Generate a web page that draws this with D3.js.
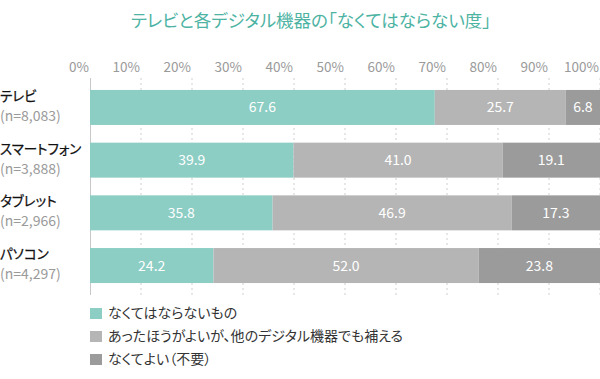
<!DOCTYPE html>
<html><head><meta charset="utf-8">
<script src="https://cdn.jsdelivr.net/npm/d3@7"></script>
<style>
html,body{margin:0;padding:0;background:#fff;}
svg{display:block;font-family:"Noto Sans CJK JP","Noto Sans",sans-serif;}
.jp{font-feature-settings:"palt" 1;}
</style></head>
<body><svg id="c" width="600" height="379"></svg>
<script>
const title = "テレビと各デジタル機器の「なくてはならない度」";
const categories = ["テレビ","スマートフォン","タブレット","パソコン"];
const sampleSizes = ["(n=8,083)","(n=3,888)","(n=2,966)","(n=4,297)"];
const seriesNames = ["なくてはならないもの","あったほうがよいが、他のデジタル機器でも補える","なくてよい（不要）"];
const essential = [67.6, 39.9, 35.8, 24.2];
const replaceable = [25.7, 41.0, 46.9, 52.0];
const unnecessary = [6.8, 19.1, 17.3, 23.8];
const tickValues = [0,10,20,30,40,50,60,70,80,90,100];
const colors = ["#8ccdc4","#b5b5b5","#9b9b9b"];

const svg = d3.select("#c");
const x = d3.scaleLinear().domain([0,100]).range([90,600]);
const y = d3.scaleBand().domain(categories).range([78,295]).paddingInner(0.336).paddingOuter(0.227);

svg.append("text").attr("class","jp").attr("x",311).attr("y",27).attr("text-anchor","middle")
  .attr("font-size",17.5).attr("fill","#4db3a3").text(title);

// grid lines
svg.append("g").selectAll("line").data(tickValues.slice(1)).join("line")
  .attr("x1",d=>x(d)).attr("x2",d=>x(d)).attr("y1",78).attr("y2",295)
  .attr("stroke","#cfcfcf").attr("stroke-width",1).attr("stroke-dasharray","2,3");
svg.append("line").attr("x1",x(0)+0.5).attr("x2",x(0)+0.5).attr("y1",78).attr("y2",295)
  .attr("stroke","#c8c8c8").attr("stroke-width",1);

// tick labels
svg.append("g").selectAll("text").data(tickValues).join("text")
  .attr("x",d=>x(d)-1).attr("y",72).attr("text-anchor","end")
  .attr("font-size",13.5).attr("fill","#9a9a9a").text(d=>d+"%");

const series = [essential, replaceable, unnecessary];
const stackData = categories.map((c,i)=>{
  let acc=0;
  return series.map((s,k)=>{const seg={cat:c,k,v:s[i],x0:acc,x1:acc+s[i]};acc+=s[i];return seg;});
}).flat();

svg.append("g").selectAll("rect").data(stackData).join("rect")
  .attr("x",d=>x(d.x0)).attr("width",d=>Math.min(x(d.x1),600)-x(d.x0))
  .attr("y",d=>y(d.cat)).attr("height",y.bandwidth())
  .attr("fill",d=>colors[d.k]);

svg.append("g").selectAll("text").data(stackData).join("text")
  .attr("x",d=>(x(d.x0)+Math.min(x(d.x1),600))/2).attr("y",d=>y(d.cat)+y.bandwidth()/2)
  .attr("dy","0.36em").attr("text-anchor","middle").attr("font-size",14)
  .attr("fill","#fff").text(d=>d.v.toFixed(1));

// category labels
const cl = svg.append("g").selectAll("g").data(categories).join("g");
cl.append("text").attr("class","jp").attr("x",0).attr("y",d=>y(d)+11).attr("font-size",13.5)
  .attr("fill","#111").attr("stroke","#111").attr("stroke-width",0.25).text(d=>d);
cl.append("text").attr("x",0).attr("y",(d,i)=>y(d)+31).attr("font-size",14)
  .attr("fill","#9a9a9a").text((d,i)=>sampleSizes[i]);

// legend
const lg = svg.append("g").selectAll("g").data(seriesNames).join("g")
  .attr("transform",(d,i)=>`translate(90,${313+i*23})`);
lg.append("rect").attr("x",0).attr("y",-5).attr("width",12).attr("height",11)
  .attr("fill",(d,i)=>colors[i]);
lg.append("text").attr("class","jp").attr("x",18).attr("y",0).attr("dy","0.36em").attr("font-size",14)
  .attr("fill","#333").text(d=>d);
</script></body></html>
